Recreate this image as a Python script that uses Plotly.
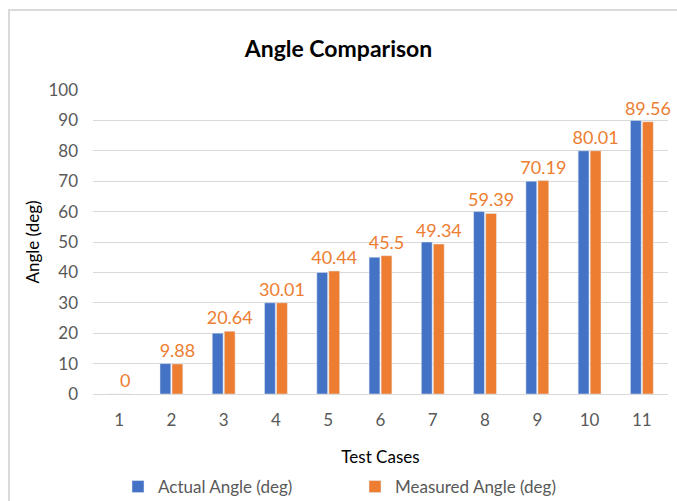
import plotly.graph_objects as go

categories = ["1", "2", "3", "4", "5", "6", "7", "8", "9", "10", "11"]
actual = [0, 10, 20, 30, 40, 45, 50, 60, 70, 80, 90]
measured = [0, 9.88, 20.64, 30.01, 40.44, 45.5, 49.34, 59.39, 70.19, 80.01, 89.56]
y_ticks = list(range(0, 101, 10))

FONT = "Lato, 'Open Sans', sans-serif"
BLUE = "#4472C4"
ORANGE = "#ED7D31"

fig = go.Figure()
fig.add_trace(go.Bar(x=categories, y=actual, name="Actual Angle (deg)",
                     marker=dict(color=BLUE)))
fig.add_trace(go.Bar(x=categories, y=measured, name="Measured Angle (deg)",
                     marker=dict(color=ORANGE),
                     text=[f"{v:g}" for v in measured], textposition="outside",
                     constraintext="none",
                     textfont=dict(color=ORANGE, size=18, family=FONT),
                     cliponaxis=False))

W, H = 677, 501
ml, mr, mt, mb = 93, 9, 90, 107
pw, ph = W - ml - mr, H - mt - mb

def px(x):
    return (x - ml) / pw

def py(y):
    return (H - mb - y) / ph

fig.update_layout(
    width=W, height=H,
    margin=dict(l=ml, r=mr, t=mt, b=mb, autoexpand=False),
    paper_bgcolor="white", plot_bgcolor="white",
    font=dict(family=FONT, size=17, color="#595959"),
    title=dict(text="<b>Angle Comparison</b>", x=0.5, xanchor="center",
               y=1 - 49 / H, yanchor="middle",
               font=dict(family=FONT, size=23, color="black")),
    barmode="group", bargap=0.54, bargroupgap=0.1,
    xaxis=dict(type="category", showgrid=False, ticks="", showline=False,
               automargin=False, ticklabelstandoff=14,
               tickfont=dict(size=17, color="#595959"),
               title=dict(text="Test Cases", standoff=22,
                          font=dict(size=17, color="black"))),
    yaxis=dict(range=[0, 100], tickvals=y_ticks, showgrid=True,
               gridcolor="#D9D9D9", gridwidth=1.3, zeroline=True,
               zerolinecolor="#D9D9D9", zerolinewidth=1.3, showline=False,
               ticks="", ticklabelstandoff=14, automargin=False,
               tickfont=dict(size=17, color="#595959"),
               title=dict(text="Angle (deg)", standoff=4,
                          font=dict(size=17, color="black"))),
    legend=dict(orientation="h", x=px(118), xanchor="left",
                y=py(487), yanchor="middle",
                font=dict(size=17, color="#595959"),
                entrywidth=192, entrywidthmode="pixels",
                itemwidth=30, traceorder="normal"),
    shapes=[dict(type="rect", xref="paper", yref="paper",
                 x0=px(9), x1=px(W + 5), y0=py(H + 5), y1=py(10),
                 line=dict(color="#D9D9D9", width=2), layer="below")],
)

fig.write_html("out.html", config={"displayModeBar": False},
               post_script="document.body.style.margin='0';document.body.style.overflow='hidden';")
